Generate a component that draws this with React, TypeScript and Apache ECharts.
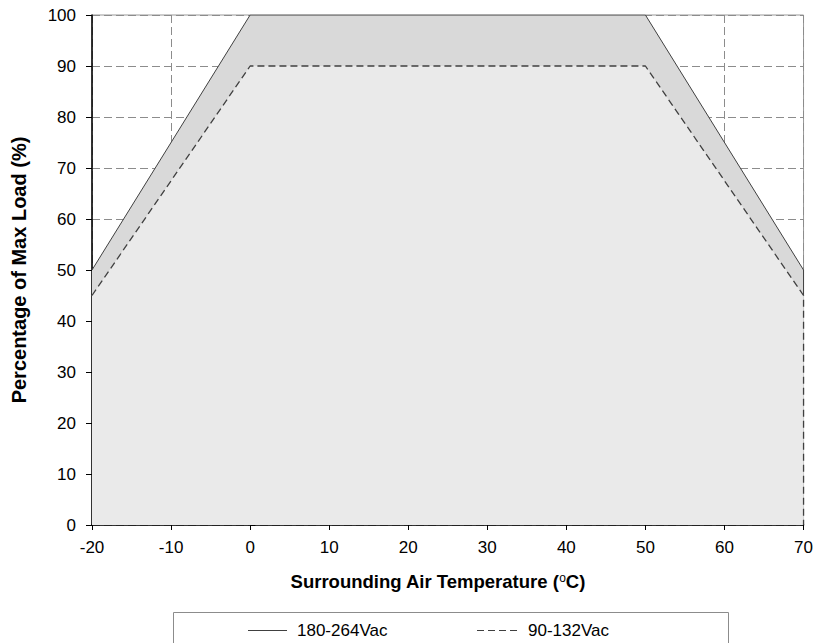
import React, { useEffect, useRef } from "react";
import * as echarts from "echarts";

const solidX = [-20, 0, 50, 70, 70];
const solidY = [50, 100, 100, 50, 45];
const dashedX = [-20, 0, 50, 70, 70];
const dashedY = [45, 90, 90, 45, 0];
const seriesNames = ["180-264Vac", "90-132Vac"];

const FONT = "'Liberation Sans', Arial, sans-serif";

export default function App() {
  const ref = useRef<HTMLDivElement>(null);
  useEffect(() => {
    document.body.style.margin = "0";
    const chart = echarts.init(ref.current!, null, { renderer: "svg" });
    const solid = solidX.map((x, i) => [x, solidY[i]]);
    const dashed = dashedX.map((x, i) => [x, dashedY[i]]);
    const gridLine = { show: true, lineStyle: { color: "#8c8c8c", type: [8, 4], width: 1 } };
    const legendText = { fontSize: 17, fill: "#000", fontFamily: FONT, verticalAlign: "middle" };
    chart.setOption({
      animation: false,
      textStyle: { fontFamily: FONT },
      grid: {
        left: 92, right: 12, top: 15, bottom: 118,
        show: true, borderColor: "#999999", borderWidth: 1, backgroundColor: "transparent",
      },
      graphic: [
        {
          type: "rect", shape: { x: 173.5, y: 612.5, width: 555, height: 40 },
          style: { fill: "none", stroke: "#8c8c8c", lineWidth: 1 }, silent: true,
        },
        {
          type: "line", shape: { x1: 248, y1: 630.5, x2: 287, y2: 630.5 },
          style: { stroke: "#404040", lineWidth: 1 }, silent: true,
        },
        { type: "text", x: 297, y: 630, style: { ...legendText, text: seriesNames[0] }, silent: true },
        {
          type: "line", shape: { x1: 477, y1: 630.5, x2: 518, y2: 630.5 },
          style: { stroke: "#404040", lineWidth: 1.2, lineDash: [7, 4] }, silent: true,
        },
        { type: "text", x: 528, y: 630, style: { ...legendText, text: seriesNames[1] }, silent: true },
      ],
      xAxis: [
        {
          type: "value", min: -20, max: 70, interval: 10,
          axisLine: { show: true, onZero: false, lineStyle: { color: "#000", width: 1.5 } },
          axisTick: { show: true, length: 5, lineStyle: { color: "#000" } },
          axisLabel: { fontSize: 17, color: "#000", margin: 14, fontFamily: FONT },
          splitLine: gridLine,
          name: "{a|Surrounding Air Temperature (}{s|o}{b|C)}",
          nameLocation: "middle", nameGap: 47,
          nameTextStyle: {
            rich: {
              a: { fontSize: 18.5, fontWeight: "bold", color: "#000", fontFamily: FONT },
              b: { fontSize: 18.5, fontWeight: "bold", color: "#000", fontFamily: FONT, padding: [0, 20, 0, 0] },
              s: { fontSize: 12, color: "#000", fontFamily: FONT, verticalAlign: "top", padding: [0, 0, 7, 0] },
            },
          },
        },
        {
          type: "value", min: -20, max: 70, interval: 10, position: "bottom",
          axisLine: { show: false },
          axisTick: { show: true, inside: true, length: 5, lineStyle: { color: "#000" } },
          axisLabel: { show: false },
          splitLine: { show: false },
        },
      ],
      yAxis: [
        {
          type: "value", min: 0, max: 100, interval: 10,
          axisLine: { show: true, onZero: false, lineStyle: { color: "#000", width: 1.5 } },
          axisTick: { show: true, length: 6, lineStyle: { color: "#000" } },
          axisLabel: { fontSize: 17, color: "#000", margin: 16, fontFamily: FONT },
          splitLine: gridLine,
          name: "Percentage of Max Load (%)",
          nameLocation: "middle", nameGap: 63,
          nameTextStyle: { fontSize: 20, fontWeight: "bold", color: "#000", fontFamily: FONT },
        },
        {
          type: "value", min: 0, max: 100, interval: 10, position: "left",
          axisLine: { show: false },
          axisTick: { show: true, inside: true, length: 5, lineStyle: { color: "#000" } },
          axisLabel: { show: false },
          splitLine: { show: false },
        },
      ],
      series: [
        {
          name: seriesNames[0], type: "line", data: solid, symbol: "none",
          lineStyle: { color: "#404040", width: 1 },
          itemStyle: { color: "#404040" },
          areaStyle: { color: "#d9d9d9", opacity: 1 },
          z: 2,
        },
        {
          name: seriesNames[1], type: "line", data: dashed, symbol: "none",
          lineStyle: { color: "#404040", width: 1.3, type: [7, 4] },
          itemStyle: { color: "#404040" },
          areaStyle: { color: "#eaeaea", opacity: 1 },
          z: 3,
        },
      ],
    });
    return () => chart.dispose();
  }, []);
  return <div ref={ref} style={{ width: 816, height: 643 }} />;
}
